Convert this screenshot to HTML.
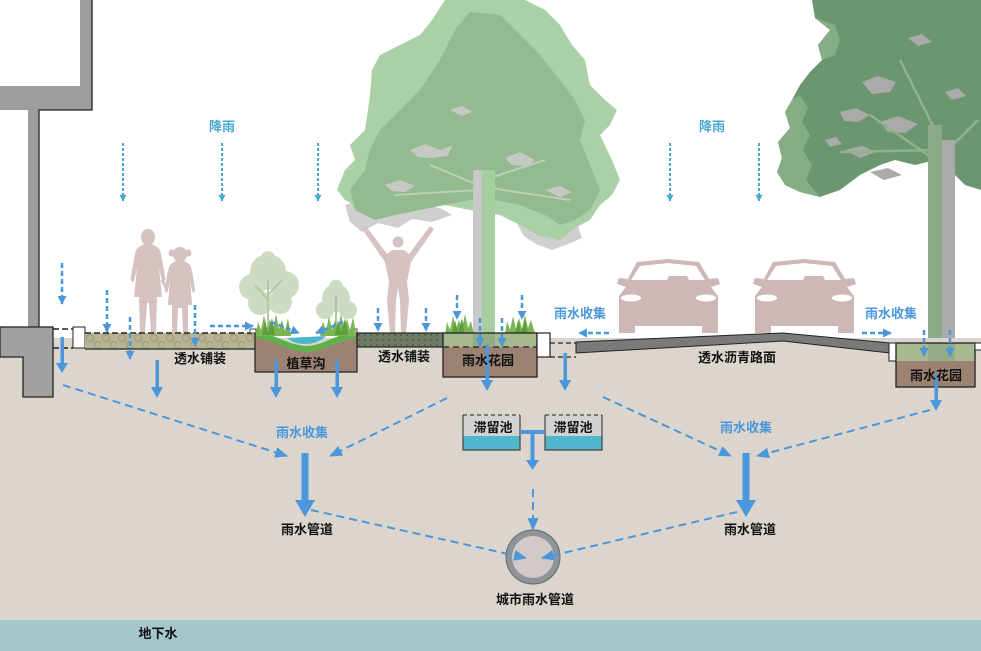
<!DOCTYPE html>
<html><head><meta charset="utf-8"><style>
html,body{margin:0;padding:0;background:#fff;}
svg{display:block;}
text{font-family:"Liberation Sans","Noto Sans CJK SC",sans-serif;font-weight:bold;font-size:13px;text-anchor:middle;}
</style></head><body>
<svg width="981" height="651" viewBox="0 0 981 651" xmlns="http://www.w3.org/2000/svg">
<defs>
<pattern id="pebble" x="85" y="333" width="16" height="16" patternUnits="userSpaceOnUse">
 <rect width="16" height="16" fill="#b7b493"/>
 <circle cx="5" cy="5" r="3.5" fill="none" stroke="#9b9879" stroke-width="1"/>
 <circle cx="13" cy="12" r="3.5" fill="none" stroke="#9b9879" stroke-width="1"/>
</pattern>
<pattern id="dots" x="357" y="333" width="6" height="5" patternUnits="userSpaceOnUse">
 <rect width="6" height="5" fill="#6f7b64"/>
 <circle cx="2" cy="2" r="1" fill="#535d4b"/>
</pattern>
<marker id="mB" viewBox="0 0 12 10" refX="11" refY="5" markerWidth="13" markerHeight="11" markerUnits="userSpaceOnUse" orient="auto"><path d="M0,0 L12,5 L0,10 Z" fill="#4a97dc"/></marker>
<marker id="mS" viewBox="0 0 10 10" refX="9" refY="5" markerWidth="9" markerHeight="9" markerUnits="userSpaceOnUse" orient="auto"><path d="M0,0 L10,5 L0,10 Z" fill="#4a97dc"/></marker>
<marker id="mR" viewBox="0 0 10 10" refX="9" refY="5" markerWidth="7" markerHeight="7" markerUnits="userSpaceOnUse" orient="auto"><path d="M0,0 L10,5 L0,10 Z" fill="#47a9cf"/></marker>
</defs>

<!-- building upper -->
<rect x="80" y="0" width="12" height="110" fill="#9d9d9d"/>
<rect x="0" y="86" width="92" height="24" fill="#9d9d9d"/>
<rect x="28" y="110" width="11" height="220" fill="#9d9d9d"/>
<polyline points="92,0 92,110 39,110 39,327" stroke="#222" fill="none" stroke-width="1.3"/>

<!-- big middle tree -->
<g>
<polygon fill="#cfcfcf" points="345,205 360,200 385,207 410,203 440,208 452,215 432,222 412,219 398,228 378,223 362,232 350,222"/>
<polygon fill="#cfcfcf" points="515,220 545,224 560,232 578,226 582,238 568,244 552,250 536,244 524,236"/>
<polygon fill="#aad0a5" points="445,0 525,0 545,10 560,25 572,45 585,60 590,85 605,100 617,110 610,125 600,135 612,160 620,180 612,195 600,205 590,220 575,228 560,240 540,236 520,225 500,215 470,210 445,205 420,205 400,200 380,205 360,208 345,200 337,190 345,170 355,160 350,145 365,130 368,110 370,95 372,70 380,55 400,45 420,35 432,20"/>
<polygon fill="#94bb90" points="470,12 500,15 520,35 540,55 560,80 575,100 585,120 580,140 590,165 600,190 590,210 575,220 560,225 545,215 520,205 495,200 470,200 445,205 420,210 395,215 375,220 355,210 350,190 365,170 370,150 380,130 400,110 420,90 440,60 455,30"/>
<polygon fill="#c6c8c4" points="410,150 425,144 440,150 452,146 448,156 432,158 418,157"/>
<polygon fill="#c6c8c4" points="505,158 520,152 535,160 528,166 512,165"/>
<polygon fill="#c6c8c4" points="450,110 462,106 472,112 462,116"/>
<polygon fill="#c6c8c4" points="385,185 400,180 415,186 405,192 392,191"/>
<polygon fill="#c6c8c4" points="545,190 560,186 572,192 560,197"/>
<path d="M478,185 L430,165 M478,190 L395,195 M490,178 L545,160 M490,188 L570,200" stroke="#bccfb7" stroke-width="2" fill="none"/>
<rect x="473" y="170" width="10" height="165" fill="#c8c8c8"/>
<rect x="482" y="170" width="13" height="165" fill="#a6cf9f"/>
</g>

<!-- right tree -->
<g>
<polygon fill="#6c9670" points="812,0 981,0 981,190 965,185 950,170 935,160 915,165 895,160 880,165 860,175 840,190 820,197 800,192 785,185 777,172 782,158 778,142 790,128 785,112 792,100 800,85 810,72 822,60 818,45 830,30 815,18"/>
<polygon fill="#86ad84" points="777,172 782,158 778,142 790,128 785,112 792,100 800,95 808,108 802,122 810,135 803,150 812,165 806,180 820,197 800,192 785,185"/>
<polygon fill="#86ad84" points="815,18 830,30 818,45 822,60 835,55 840,40 835,25"/>
<polygon fill="#aaaaaa" points="862,82 878,76 896,82 890,92 872,94"/>
<polygon fill="#aaaaaa" points="840,112 856,108 870,115 858,122 844,121"/>
<polygon fill="#aaaaaa" points="880,122 898,116 918,124 905,133 888,132"/>
<polygon fill="#aaaaaa" points="845,150 862,146 876,152 860,158"/>
<polygon fill="#aaaaaa" points="908,38 922,34 932,42 918,46"/>
<polygon fill="#aaaaaa" points="945,92 958,88 966,96 952,100"/>
<polygon fill="#aaaaaa" points="825,140 836,137 842,144 830,147"/>
<polygon fill="#aaaaaa" points="870,172 888,168 902,175 884,180"/>
<path d="M935,160 L870,115 M935,150 L840,152 M935,130 L900,60 M948,150 L978,120" stroke="#8fb28b" stroke-width="2.5" fill="none"/>
<rect x="928" y="125" width="14" height="220" fill="#8aab85"/>
<rect x="942" y="140" width="13" height="205" fill="#aaaaaa"/>
</g>

<!-- shrubs -->
<g fill="#cddbc2">
<circle cx="268" cy="272" r="18"/><circle cx="252" cy="287" r="13"/><circle cx="285" cy="285" r="14"/>
<circle cx="260" cy="303" r="12"/><circle cx="280" cy="302" r="12"/><circle cx="268" cy="258" r="7"/>
<circle cx="336" cy="298" r="14"/><circle cx="325" cy="310" r="9"/><circle cx="348" cy="310" r="9"/><circle cx="336" cy="287" r="7"/>
</g>
<path d="M268,330 L268,280 M268,300 L255,285 M268,295 L282,280 M336,330 L336,295" stroke="#b4c6a3" stroke-width="2" fill="none"/>

<!-- people -->
<g fill="#d5c2c1">
<path d="M148,229 C152,229 155,232 155,237 C155,240 154,242 152,244 L157,247 C160,249 161,253 162,259 L165,277 C166,281 164,283 162,281 L159,268 L162,297 L157,297 L156,333 L151,333 L149,303 L147,303 L145,333 L140,333 L139,297 L134,297 L137,268 L134,281 C132,283 130,281 131,277 L134,259 C135,253 136,249 139,247 L144,244 C142,242 141,240 141,237 C141,232 144,229 148,229 Z"/>
<path d="M180,247 C184,247 187,250 187,254 C187,257 186,259 184,261 L189,264 C191,266 192,270 193,276 L195,290 C195,293 193,293 192,291 L190,279 L192,305 L188,305 L188,333 L183,333 L182,308 L178,308 L177,333 L172,333 L172,305 L168,305 L170,279 L168,291 C167,293 165,293 165,290 L167,276 C168,270 169,266 171,264 L176,261 C174,259 173,257 173,254 C173,250 176,247 180,247 Z"/>
<circle cx="172" cy="253" r="3.5"/><circle cx="188" cy="253" r="3.5"/>
<path d="M162,280 L167,289" stroke="#d5c2c1" stroke-width="3"/>
<circle cx="398" cy="242" r="5.5"/>
<path d="M392,250 L404,250 L409,254 L430,226 L434,229 L411,262 L407,282 L409,300 L406,333 L401,333 L400,300 L398,288 L396,300 L395,333 L390,333 L387,300 L389,282 L385,262 L362,229 L366,226 L387,254 Z"/>
</g>

<!-- cars -->
<g transform="translate(617,259)">
<polygon fill="#cdb7b7" points="20,3 51,0 82,3 92,20 101,19 103,25 94,28 101,37 101,74 85,74 85,67 18,67 18,74 2,74 2,37 9,28 0,25 2,19 11,20"/>
<polygon fill="#fff" points="23,7 51,4 79,7 88,21 72,21 70,17 52,17 50,21 14,21"/>
<ellipse cx="14" cy="39" rx="10" ry="3.5" fill="#fff"/>
<ellipse cx="89" cy="39" rx="10" ry="3.5" fill="#fff"/>
</g>
<g transform="translate(753,259)">
<polygon fill="#cdb7b7" points="20,3 51,0 82,3 92,20 101,19 103,25 94,28 101,37 101,74 85,74 85,67 18,67 18,74 2,74 2,37 9,28 0,25 2,19 11,20"/>
<polygon fill="#fff" points="23,7 51,4 79,7 88,21 72,21 70,17 52,17 50,21 14,21"/>
<ellipse cx="14" cy="39" rx="10" ry="3.5" fill="#fff"/>
<ellipse cx="89" cy="39" rx="10" ry="3.5" fill="#fff"/>
</g>

<!-- soil & groundwater -->
<rect x="0" y="338" width="981" height="282" fill="#dbd5cd"/>
<rect x="0" y="620" width="981" height="31" fill="#a5c6cb"/>

<!-- lower building block -->
<polygon points="0,327 53,327 53,397 23,397 23,357 0,357" fill="#a0a0a0" stroke="#222" stroke-width="1.3"/>
<line x1="53" y1="329" x2="73" y2="329" stroke="#222" stroke-width="1.5" stroke-dasharray="6 3"/>
<line x1="53" y1="348" x2="73" y2="348" stroke="#222" stroke-width="1.5" stroke-dasharray="6 3"/>
<rect x="73" y="327" width="12" height="21" fill="#fff" stroke="#222" stroke-width="1"/>

<!-- permeable paving 1 -->
<rect x="85" y="333" width="170" height="16" fill="url(#pebble)"/>
<line x1="85" y1="333" x2="252" y2="333" stroke="#222" stroke-width="1.5" stroke-dasharray="6 3"/>
<line x1="85" y1="349" x2="255" y2="349" stroke="#222" stroke-width="1.3"/>
<rect x="250" y="329" width="6" height="4" fill="#fff" stroke="#222" stroke-width="0.8"/>

<!-- swale -->
<path d="M255,333 C275,335 285,345 305,347 C325,347 335,335 357,333 L357,372 L255,372 Z" fill="#9c8272"/>
<path d="M256,335 C275,337 285,347 305,349 C325,349 335,337 356,335" stroke="#5fb14a" stroke-width="6" fill="none"/>
<path d="M287,338 L326,336 C320,342 312,344 305,344 C297,344 292,342 287,338 Z" fill="#4cb6cd"/>
<polyline points="255,333 255,372 357,372 357,333" stroke="#222" stroke-width="1.2" fill="none"/>
<rect x="351" y="329" width="6" height="4" fill="#fff" stroke="#222" stroke-width="0.8"/>

<!-- grass tufts -->
<g fill="#7cb553">
<polygon points="256,333 258,322 261,330 264,315 267,329 270,319 273,330 276,314 279,329 282,320 285,331 288,318 291,336 256,336"/>
<polygon points="320,336 323,321 326,331 329,316 332,330 335,320 338,329 341,314 344,329 347,319 350,330 353,317 356,333 356,336"/>
<polygon points="445,335 447,322 450,330 453,316 456,329 459,320 462,329 465,314 468,328 471,321 474,335"/>
<polygon points="505,335 507,321 510,330 513,316 516,329 519,318 522,329 525,315 528,328 531,320 534,330 536,335"/>
</g>
<g fill="#5e9e3d">
<polygon points="262,335 265,320 268,333 272,318 275,335"/>
<polygon points="335,335 338,320 341,333 345,318 348,335"/>
<polygon points="452,335 455,320 458,333 462,318 465,335"/>
<polygon points="515,335 518,320 521,333 525,318 528,335"/>
</g>

<!-- permeable paving 2 -->
<rect x="357" y="333" width="87" height="14" fill="url(#dots)" stroke="#222" stroke-width="1.2"/>

<!-- rain garden 1 -->
<rect x="443" y="333" width="94" height="14" fill="#a8b98d"/>
<rect x="473" y="333" width="22" height="14" fill="#93ad86"/>
<rect x="443" y="347" width="94" height="30" fill="#9c8272"/>
<rect x="443" y="333" width="94" height="44" fill="none" stroke="#222" stroke-width="1.3"/>
<line x1="443" y1="347" x2="537" y2="347" stroke="#333" stroke-width="1.5" stroke-dasharray="6 4"/>

<!-- curb -->
<rect x="537" y="333" width="13" height="24" fill="#fff" stroke="#222" stroke-width="1.2"/>
<line x1="550" y1="343" x2="576" y2="343" stroke="#222" stroke-width="1.3" stroke-dasharray="5 3"/>
<line x1="550" y1="357" x2="576" y2="357" stroke="#222" stroke-width="1.3" stroke-dasharray="5 3"/>

<!-- road -->
<polygon points="576,342 783,333 890,343 890,353 783,341 576,353" fill="#7a7a7a" stroke="#222" stroke-width="1"/>

<!-- right curb & garden -->
<rect x="889" y="343" width="7" height="18" fill="#fff" stroke="#222" stroke-width="1"/>
<rect x="896" y="343" width="79" height="18" fill="#a8b98d"/>
<rect x="928" y="343" width="27" height="18" fill="#93ad86"/>
<rect x="896" y="361" width="79" height="26" fill="#9c8272"/>
<rect x="896" y="343" width="79" height="44" fill="none" stroke="#222" stroke-width="1.3"/>
<rect x="975" y="343" width="8" height="7" fill="#fff" stroke="#222" stroke-width="1"/>

<!-- tanks -->
<rect x="463" y="415" width="57" height="21" fill="#d2d2d2"/>
<rect x="463" y="436" width="57" height="14" fill="#4fb6cc"/>
<polyline points="463,415 463,450 520,450 520,415" fill="none" stroke="#444" stroke-width="1.2"/>
<line x1="463" y1="415" x2="520" y2="415" stroke="#444" stroke-width="1.2" stroke-dasharray="4 3"/>
<rect x="545" y="415" width="57" height="21" fill="#d2d2d2"/>
<rect x="545" y="436" width="57" height="14" fill="#4fb6cc"/>
<polyline points="545,415 545,450 602,450 602,415" fill="none" stroke="#444" stroke-width="1.2"/>
<line x1="545" y1="415" x2="602" y2="415" stroke="#444" stroke-width="1.2" stroke-dasharray="4 3"/>
<rect x="520" y="430" width="25" height="4" fill="#4a97dc"/>
<rect x="530.5" y="430" width="4" height="31" fill="#4a97dc"/>
<polygon points="526,460 539,460 532.5,470" fill="#4a97dc"/>

<!-- city pipe -->
<circle cx="533" cy="557" r="27" fill="#8f949a" stroke="#666" stroke-width="1"/>
<circle cx="533" cy="557" r="21" fill="#d3c9c7"/>

<!-- rain (cyan dotted) -->
<g stroke="#47a9cf" stroke-width="2" stroke-dasharray="3 2" marker-end="url(#mR)">
<line x1="123" y1="143" x2="123" y2="201"/>
<line x1="222" y1="143" x2="222" y2="201"/>
<line x1="318" y1="143" x2="318" y2="201"/>
<line x1="670" y1="143" x2="670" y2="201"/>
<line x1="759" y1="143" x2="759" y2="201"/>
</g>

<!-- small blue dashed surface arrows -->
<g stroke="#4a97dc" stroke-width="2.5" stroke-dasharray="5 3" marker-end="url(#mS)" fill="none">
<line x1="62" y1="263" x2="62" y2="304"/>
<line x1="107" y1="290" x2="107" y2="332"/>
<line x1="130" y1="317" x2="130" y2="359"/>
<line x1="195" y1="305" x2="195" y2="346"/>
<line x1="378" y1="308" x2="378" y2="331"/>
<line x1="426" y1="308" x2="426" y2="331"/>
<line x1="457" y1="295" x2="457" y2="319"/>
<line x1="522" y1="295" x2="522" y2="319"/>
<line x1="480" y1="318" x2="480" y2="346"/>
<line x1="502" y1="318" x2="502" y2="346"/>
<line x1="924" y1="330" x2="924" y2="356"/>
<line x1="950" y1="330" x2="950" y2="356"/>
<line x1="210" y1="326" x2="253" y2="326"/>
<line x1="609" y1="333" x2="579" y2="333"/>
<line x1="862" y1="333" x2="891" y2="333"/>
<line x1="271" y1="322" x2="299" y2="333"/>
<line x1="343" y1="322" x2="316" y2="333"/>
</g>

<!-- long dashed collectors -->
<g stroke="#4a97dc" stroke-width="2" stroke-dasharray="8 5" marker-end="url(#mB)" fill="none">
<line x1="63" y1="385" x2="287" y2="456"/>
<line x1="447" y1="398" x2="330" y2="456"/>
<line x1="603" y1="397" x2="731" y2="456"/>
<line x1="930" y1="410" x2="757" y2="456"/>
<line x1="311" y1="510" x2="526" y2="558"/>
<line x1="737" y1="512" x2="542" y2="558"/>
<line x1="533" y1="489" x2="533" y2="530"/>
</g>

<!-- solid blue arrows -->
<g fill="#4a97dc">
<rect x="60.5" y="337" width="3.5" height="27"/><polygon points="56,363 68,363 62,373"/>
<rect x="155.5" y="360" width="3.5" height="28"/><polygon points="151,387 163,387 157,398"/>
<rect x="274.5" y="360" width="3.5" height="28"/><polygon points="270,387 282,387 276,398"/>
<rect x="335.5" y="360" width="3.5" height="28"/><polygon points="331,387 343,387 337,398"/>
<rect x="485.5" y="345" width="3.5" height="36"/><polygon points="481,380 493,380 487,391"/>
<rect x="563.5" y="353" width="3.5" height="28"/><polygon points="559,380 571,380 565,391"/>
<rect x="934.5" y="375" width="3.5" height="26"/><polygon points="930,400 942,400 936,411"/>
<rect x="301.5" y="453" width="7" height="48"/><polygon points="295,500 315,500 305,517"/>
<rect x="742.5" y="453" width="7" height="48"/><polygon points="736,500 756,500 746,517"/>
</g>

<!-- labels -->
<g fill="#47a9cf"><text x="222" y="131">降雨</text><text x="712" y="131">降雨</text></g>
<g fill="#4a97dc">
<text x="580" y="318">雨水收集</text>
<text x="891" y="318">雨水收集</text>
<text x="302" y="437">雨水收集</text>
<text x="746" y="432">雨水收集</text>
</g>
<g fill="#111">
<text x="200" y="363">透水铺装</text>
<text x="306" y="368">植草沟</text>
<text x="404" y="361">透水铺装</text>
<text x="488" y="365">雨水花园</text>
<text x="737" y="362">透水沥青路面</text>
<text x="936" y="380">雨水花园</text>
<text x="493" y="432">滞留池</text>
<text x="573" y="432">滞留池</text>
<text x="307" y="534">雨水管道</text>
<text x="750" y="534">雨水管道</text>
<text x="535" y="604">城市雨水管道</text>
<text x="158" y="638">地下水</text>
</g>
</svg>
</body></html>
